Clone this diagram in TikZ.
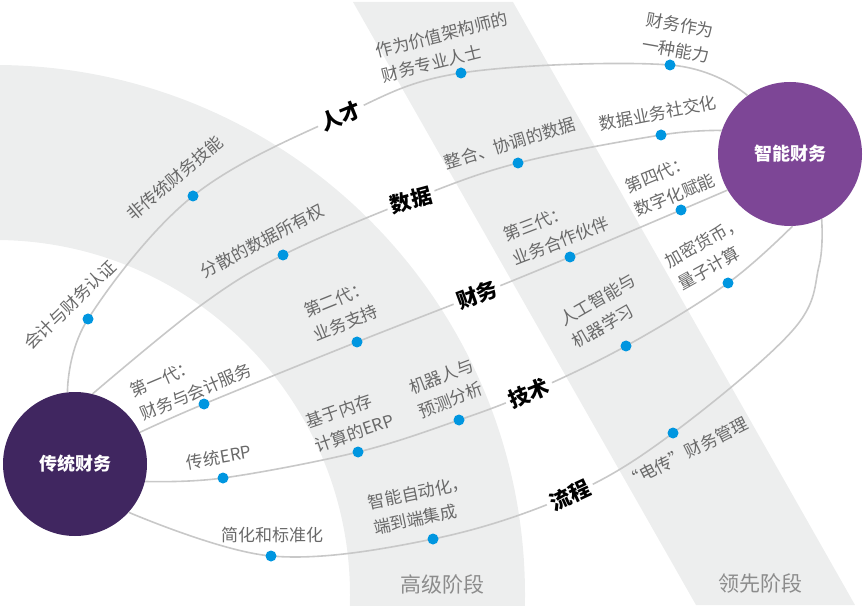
\documentclass[tikz,border=0pt]{standalone}
\usepackage{fontspec}
\setmainfont{Noto Sans CJK SC}
\usetikzlibrary{positioning}
\definecolor{bandgray}{RGB}{237,238,238}
\definecolor{linegray}{RGB}{200,200,200}
\definecolor{dotblue}{RGB}{0,150,224}
\definecolor{lblgray}{RGB}{105,105,105}
\definecolor{stagegray}{RGB}{140,140,140}
\definecolor{tradpurple}{RGB}{64,38,96}
\definecolor{smartpurple}{RGB}{125,70,150}
\tikzset{
  hub/.style={circle, minimum size=144pt, inner sep=0pt, text=white,
    font=\bfseries\fontsize{18}{20}\selectfont},
  link/.style={linegray, line width=1.6pt},
  theme/.style={fill=white, inner sep=4pt, font=\bfseries\fontsize{21}{24}\selectfont},
  lbl/.style={text=lblgray, align=left, inner sep=0pt, font=\fontsize{17}{25.5}\selectfont},
  stage/.style={text=stagegray, font=\fontsize{21}{24}\selectfont},
}

\begin{document}
\begin{tikzpicture}[x=1pt,y=-1pt]
  \useasboundingbox (0,0) rectangle (867,609);
  % stage bands
  \begin{scope}
    \clip (0,2) rectangle (867,605);
    \fill[bandgray, even odd rule] (-5,595) circle[radius=530] (-5,595) circle[radius=355];
    \fill[bandgray] (353,2) -- (513,2) -- (855,605) -- (696,605) -- cycle;
  \end{scope}
  \node[stage] (advanced) at (442,584) {高级阶段};
  \node[stage] (leading) at (760,584) {领先阶段};

  \node[hub, fill=tradpurple] (trad) at (75,464) {传统财务};
  \node[hub, fill=smartpurple] (smart) at (790,154) {智能财务};

  % points on the five paths
  \coordinate (t1) at (88,319);  \coordinate (t2) at (193,196);
  \coordinate (t3) at (461,73);  \coordinate (t4) at (670,65);
  \coordinate (d1) at (283,255); \coordinate (d2) at (518,163);
  \coordinate (d3) at (661,135);
  \coordinate (f1) at (204,404); \coordinate (f2) at (357,342);
  \coordinate (f3) at (570,257); \coordinate (f4) at (681,210);
  \coordinate (k1) at (223,478); \coordinate (k2) at (358,452);
  \coordinate (k3) at (459,420); \coordinate (k4) at (626,346);
  \coordinate (k5) at (728,283);
  \coordinate (p1) at (271,556); \coordinate (p2) at (433,539);
  \coordinate (p3) at (673,433);
  \coordinate (ct) at (341,116); \coordinate (cd) at (411,200);
  \coordinate (cf) at (477,295); \coordinate (ck) at (529,393);
  \coordinate (cp) at (570,495);

  \draw[link] plot[smooth, tension=.6] coordinates
    {(trad.96) (t1) (t2) (ct) (t3) (t4) (smart.126)};
  \draw[link] plot[smooth, tension=.6] coordinates
    {(trad.76) (200,306) (d1) (cd) (d2) (d3) (smart.161)};
  \draw[link] plot[smooth, tension=.6] coordinates
    {(trad.26) (f1) (f2) (cf) (f3) (f4) (smart.210)};
  \draw[link] plot[smooth, tension=.6] coordinates
    {(trad.346) (k1) (k2) (k3) (ck) (k4) (k5) (smart.272)};
  \draw[link] plot[smooth, tension=.6] coordinates
    {(trad.318) (p1) (p2) (cp) (p3) (793,330) (819,266) (smart.296)};

  \node[theme, rotate=22] (talent) at (ct) {人才};
  \node[theme, rotate=15] (data) at (cd) {数据};
  \node[theme, rotate=20] (finance) at (cf) {财务};
  \node[theme, rotate=22] (tech) at (ck) {技术};
  \node[theme, rotate=25] (process) at (cp) {流程};

  \foreach \p in {t1,t2,t3,t4,d1,d2,d3,f1,f2,f3,f4,k1,k2,k3,k4,k5,p1,p2,p3}
    \fill[dotblue] (\p) circle[radius=5.5];

  % talent
  \node[lbl, rotate=44] (lt1) at (70,305) {会计与财务认证};
  \node[lbl, rotate=40] (lt2) at (175,178) {非传统财务技能};
  \node[lbl, rotate=14] (lt3) at (445,47) {作为价值架构师的\\财务专业人士};
  \node[lbl, rotate=-10, align=center] (lt4) at (678,38) {财务作为\\一种能力};
  % data
  \node[lbl, rotate=28] (ld1) at (262,241) {分散的数据所有权};
  \node[lbl, rotate=17] (ld2) at (510,143) {整合、协调的数据};
  \node[lbl, rotate=11] (ld3) at (658,113) {数据业务社交化};
  % finance
  \node[lbl, rotate=23] (lf1) at (191,380) {第一代：\\财务与会计服务};
  \node[lbl, rotate=22] (lf2) at (341,311) {第二代：\\业务支持};
  \node[lbl, rotate=21] (lf3) at (556,229) {第三代：\\业务合作伙伴};
  \node[lbl, rotate=22] (lf4) at (670,183) {第四代：\\数字化赋能};
  % technology
  \node[lbl, rotate=10] (lk1) at (219,457) {传统ERP};
  \node[lbl, rotate=19] (lk2) at (350,421) {基于内存\\计算的ERP};
  \node[lbl, rotate=21] (lk3) at (446,388) {机器人与\\预测分析};
  \node[lbl, rotate=30] (lk4) at (604,311) {人工智能与\\机器学习};
  \node[lbl, rotate=29] (lk5) at (710,253) {加密货币，\\量子计算};
  % process
  \node[lbl] (lp1) at (272,535) {简化和标准化};
  \node[lbl, rotate=12] (lp2) at (421,505) {智能自动化，\\端到端集成};
  \node[lbl, rotate=27] (lp3) at (686,453) {“电传”财务管理};
\end{tikzpicture}
\end{document}
